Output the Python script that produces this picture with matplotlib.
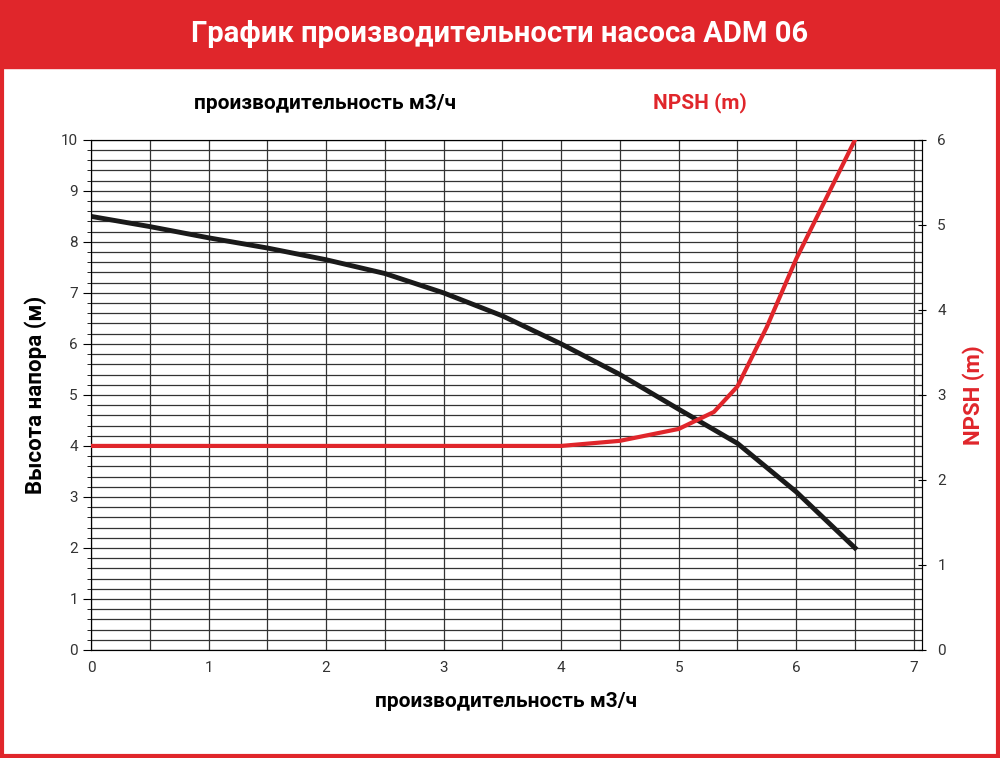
import matplotlib

matplotlib.use("Agg")
import matplotlib.pyplot as plt  # noqa: E402
import numpy as np  # noqa: E402
from matplotlib.patches import Rectangle  # noqa: E402

RED = "#e0262b"

flow_head = [0, 0.5, 1, 1.5, 2, 2.5, 3, 3.5, 4, 4.5, 5, 5.5, 6, 6.5]
head = [8.5, 8.3, 8.08, 7.88, 7.65, 7.38, 7.0, 6.55, 6.0, 5.4, 4.72, 4.05, 3.1, 2.0]

flow_npsh = [0, 1, 2, 3, 4, 4.5, 5, 5.3, 5.5, 5.75, 6, 6.25, 6.5]
npsh = [2.4, 2.4, 2.4, 2.4, 2.4, 2.46, 2.6, 2.8, 3.1, 3.8, 4.6, 5.3, 6.0]

plt.rcParams["font.family"] = ["Roboto", "DejaVu Sans"]

fig = plt.figure(figsize=(10, 7.58), dpi=100)
fig.patches.append(Rectangle((0, 0.91), 1, 0.09, transform=fig.transFigure,
                             color=RED, zorder=0))
fig.patches.append(Rectangle((0.002, 0.002), 0.996, 0.996, transform=fig.transFigure,
                             fill=False, ec=RED, lw=3, zorder=5))
fig.text(0.5, 0.955, "График производительности насоса ADM 06", color="white",
         fontsize=21, fontweight="bold", ha="center", va="center")
fig.text(0.325, 0.864, "производительность м3/ч", fontsize=15, fontweight="bold",
         ha="center", va="center")
fig.text(0.70, 0.864, "NPSH (m)", fontsize=15, fontweight="bold", color=RED,
         ha="center", va="center")

ax = fig.add_axes([0.091, 0.1425, 0.831, 0.673])
ax.set_xlim(0, 7.07)
ax.set_ylim(0, 10)
ax.set_xticks(range(8))
ax.set_xticks(np.arange(0, 7.01, 0.5), minor=True)
ax.set_yticks(range(11))
ax.set_yticks(np.arange(0, 10.01, 0.2), minor=True)
ax.grid(True, which="both", color="#333333", lw=0.9)
ax.tick_params(axis="x", which="both", length=0, labelsize=11, colors="#333333", pad=8)
ax.tick_params(axis="y", which="major", length=6, labelsize=11, labelcolor="#333333")
ax.tick_params(axis="y", which="minor", length=3)
for s in ax.spines.values():
    s.set_color("#333333")
ax.plot(flow_head, head, color="#1a1a1a", lw=3.5, zorder=4)
ax.set_xlabel("производительность м3/ч", fontsize=15, fontweight="bold", labelpad=12)
ax.set_ylabel("Высота напора (м)", fontsize=16, fontweight="bold", labelpad=10)

ax2 = ax.twinx()
ax2.set_ylim(0, 6)
ax2.set_yticks(range(7))
ax2.tick_params(axis="y", length=6, direction="inout", labelsize=11,
                labelcolor="#333333", pad=8)
ax2.plot(flow_npsh, npsh, color=RED, lw=3, zorder=4)
ax2.set_ylabel("NPSH (m)", fontsize=16, fontweight="bold", color=RED, labelpad=12)

fig.savefig("out.png", dpi=100)
